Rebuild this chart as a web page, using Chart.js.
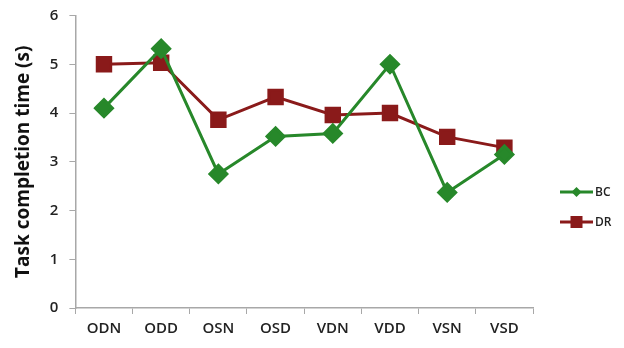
<!DOCTYPE html>
<html>
<head>
<meta charset="utf-8">
<script src="https://cdn.jsdelivr.net/npm/chart.js@4/dist/chart.umd.min.js"></script>
<style>
  html, body { margin: 0; padding: 0; background: #fff; overflow: hidden; }
  #wrap { width: 624px; height: 351px; margin-top: -3px; position: relative; }
</style>
</head>
<body>
<div id="wrap"><canvas id="timeCanvas"></canvas></div>
<script>
// conditions testées et temps moyens (s)
const conditions = ["ODN", "ODD", "OSN", "OSD", "VDN", "VDD", "VSN", "VSD"];
const bcTimes = [4.1, 5.32, 2.75, 3.52, 3.58, 5.0, 2.37, 3.15];
const drTimes = [5.0, 5.03, 3.86, 4.33, 3.96, 4.0, 3.51, 3.29];
const yTicks = [0, 1, 2, 3, 4, 5, 6];

const green = "#27882a";
const red = "#8a1a1a";
const axisColor = "#a8a8a8";
const fontName = "'Open Sans', 'DejaVu Sans', sans-serif";

// petite légende à droite : trait + marqueur puis le nom
const sideLegend = {
    id: "sideLegend",
    afterDraw(chart) {
        const ctx = chart.ctx;
        const x0 = 560, lineLen = 33;
        chart.data.datasets.forEach((ds, i) => {
            const y = 195 + i * 30;
            ctx.save();
            ctx.strokeStyle = ds.borderColor;
            ctx.lineWidth = 3;
            ctx.beginPath();
            ctx.moveTo(x0, y);
            ctx.lineTo(x0 + lineLen, y);
            ctx.stroke();
            ctx.fillStyle = ds.pointBackgroundColor;
            const cx = x0 + lineLen / 2;
            if (ds.pointStyle === "rectRot") {
                ctx.beginPath();
                ctx.moveTo(cx, y - 5);
                ctx.lineTo(cx + 5, y);
                ctx.lineTo(cx, y + 5);
                ctx.lineTo(cx - 5, y);
                ctx.closePath();
                ctx.fill();
            } else {
                ctx.fillRect(cx - 6, y - 6, 12, 12);
            }
            ctx.fillStyle = "#222";
            ctx.font = "600 12px " + fontName;
            ctx.textBaseline = "middle";
            ctx.fillText(ds.label, x0 + lineLen + 2, y + 1);
            ctx.restore();
        });
    }
};

const printChart = () => {
    const canvas = document.getElementById("timeCanvas");
    new Chart(canvas, {
        type: "line",
        data: {
            labels: conditions,
            datasets: [{
                label: "BC",
                data: bcTimes,
                borderColor: green,
                backgroundColor: green,
                pointBackgroundColor: green,
                pointBorderColor: green,
                pointStyle: "rectRot",
                pointRadius: 8.5,
                borderWidth: 3,
                tension: 0
            }, {
                label: "DR",
                data: drTimes,
                borderColor: red,
                backgroundColor: red,
                pointBackgroundColor: red,
                pointBorderColor: red,
                pointStyle: "rect",
                pointRadius: 9.5,
                borderWidth: 3,
                tension: 0
            }]
        },
        options: {
            responsive: true,
            maintainAspectRatio: false,
            animation: false,
            layout: { padding: { top: 4, right: 91, bottom: 4, left: 12 } },
            plugins: {
                legend: { display: false },
                tooltip: { enabled: false }
            },
            scales: {
                x: {
                    offset: true,
                    grid: {
                        offset: true,
                        drawOnChartArea: false,
                        color: axisColor,
                        tickLength: 6
                    },
                    border: { color: axisColor, width: 1.5 },
                    ticks: {
                        color: "#222",
                        padding: 6,
                        font: { family: fontName, size: 15, weight: "600" }
                    }
                },
                y: {
                    min: 0,
                    max: 6,
                    afterBuildTicks: (axis) => { axis.ticks = yTicks.map(v => ({ value: v })); },
                    grid: {
                        drawOnChartArea: false,
                        color: axisColor,
                        tickLength: 6
                    },
                    border: { color: axisColor, width: 1.5 },
                    ticks: {
                        color: "#222",
                        padding: 11,
                        font: { family: fontName, size: 15, weight: "600", lineHeight: 1 }
                    },
                    title: {
                        display: true,
                        text: "Task completion time (s)",
                        color: "#111",
                        padding: { top: 0, bottom: 4 },
                        font: { family: fontName, size: 19, weight: "bold" }
                    }
                }
            }
        },
        plugins: [sideLegend]
    });
};

printChart();
</script>
</body>
</html>
